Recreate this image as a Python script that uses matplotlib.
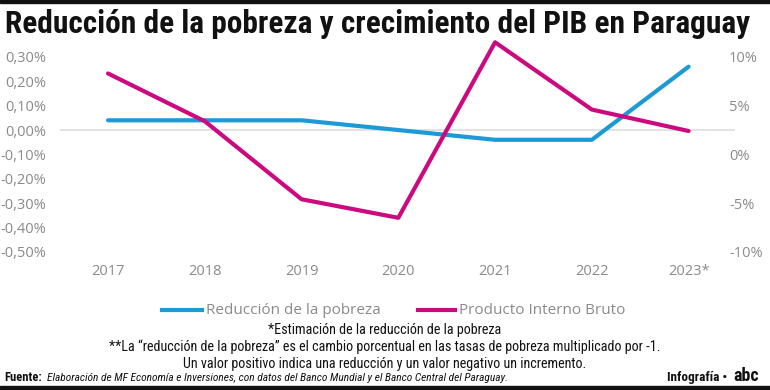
import matplotlib
matplotlib.use('Agg')
import matplotlib.pyplot as plt
import matplotlib.ticker as ticker

anios = ['2017', '2018', '2019', '2020', '2021', '2022', '2023*']
pobreza = [0.04, 0.04, 0.04, 0.00, -0.04, -0.04, 0.26]      # % eje izq
pib = [8.3, 3.4, -4.6, -6.5, 11.5, 4.6, 2.4]                # % eje der

azul = '#1b9ad6'
magenta = '#cc0a7f'
gris = '#8a8a8a'
narrow = ['Roboto Condensed', 'Archivo Narrow', 'DejaVu Sans']

fig = plt.figure(figsize=(7.7, 3.9), dpi=100)
ax = fig.add_axes([0.078, 0.354, 0.876, 0.5626])
ax2 = ax.twinx()

x = list(range(len(anios)))
ax.plot(x, pobreza, color=azul, lw=3, solid_capstyle='round', zorder=3)
ax2.plot(x, pib, color=magenta, lw=3, solid_capstyle='round', zorder=3)
ax.axhline(0, color='#dddddd', lw=1.2, zorder=1)

ax.set_xlim(-0.496, 6.475)
ax.set_ylim(-0.5, 0.4)
ax2.set_ylim(-10, 12.5)
ax.set_yticks([0.3, 0.2, 0.1, 0, -0.1, -0.2, -0.3, -0.4, -0.5])
ax.yaxis.set_major_formatter(ticker.FuncFormatter(lambda v, p: f"{v:.2f}%".replace('.', ',')))
ax2.set_yticks([10, 5, 0, -5, -10])
ax2.yaxis.set_major_formatter(ticker.FuncFormatter(lambda v, p: f"{v:.0f}%"))
ax.set_xticks(x)
ax.set_xticklabels(anios)

for a in (ax, ax2):
    for s in a.spines.values():
        s.set_visible(False)
    a.tick_params(length=0, colors=gris, labelsize=10.5)
    for lbl in a.get_xticklabels() + a.get_yticklabels():
        lbl.set_family('Open Sans')
ax.tick_params(axis='x', pad=9)
ax.tick_params(axis='y', pad=10)
ax2.tick_params(axis='y', pad=-4)

# barras negras
fig.patches.append(plt.Rectangle((0, 0.992), 1, 0.008, transform=fig.transFigure, color='#111111'))
fig.patches.append(plt.Rectangle((0, 0), 1, 0.011, transform=fig.transFigure, color='#111111'))

fig.text(0.006, 0.915, 'Reducción de la pobreza y crecimiento del PIB en Paraguay',
         family=narrow, weight='bold', fontsize=22.6, color='#111111', va='baseline')

# leyenda
fig.lines.append(plt.Line2D([0.211, 0.262], [0.205, 0.205], transform=fig.transFigure, color=azul, lw=3))
fig.text(0.268, 0.205, 'Reducción de la pobreza', family='Open Sans', fontsize=11, color=gris, va='center')
fig.lines.append(plt.Line2D([0.543, 0.591], [0.205, 0.205], transform=fig.transFigure, color=magenta, lw=3))
fig.text(0.596, 0.205, 'Producto Interno Bruto', family='Open Sans', fontsize=11, color=gris, va='center')

notas = ['*Estimación de la reducción de la pobreza',
         '**La “reducción de la pobreza” es el cambio porcentual en las tasas de pobreza multiplicado por -1.',
         'Un valor positivo indica una reducción y un valor negativo un incremento.']
for i, t in enumerate(notas):
    fig.text(0.5, 0.1436 - i * 0.0436, t, family=narrow, fontsize=10.2, color='#111111', ha='center', va='baseline')

fig.text(0.006, 0.023, 'Fuente:', family=narrow, weight='bold', fontsize=9, color='#111111', va='baseline')
fig.text(0.061, 0.023, 'Elaboración de MF Economía e Inversiones, con datos del Banco Mundial y el Banco Central del Paraguay.',
         family=narrow, style='italic', fontsize=8.2, color='#111111', va='baseline')
fig.text(0.945, 0.023, 'Infografía •', family=narrow, weight='bold', fontsize=9.5, color='#111111', ha='right', va='baseline')
fig.text(0.952, 0.023, 'abc', family=narrow, weight='bold', fontsize=13, color='#111111', va='baseline')

fig.savefig('out.png', dpi=100, facecolor='white')
